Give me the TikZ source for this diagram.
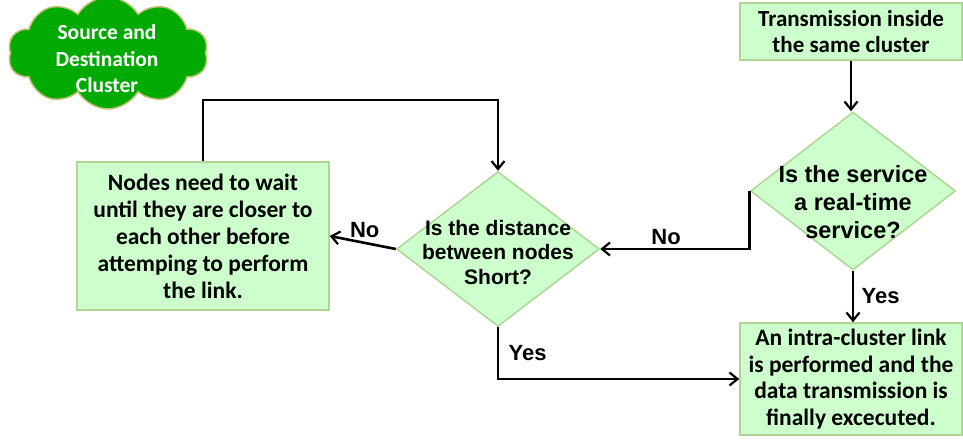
\documentclass[tikz,border=0pt]{standalone}
\usepackage{fontspec}
\newfontfamily\carlito{Carlito}
\newfontfamily\arialfont{Liberation Sans}
\usetikzlibrary{shapes.geometric,shapes.symbols,arrows.meta}
\definecolor{boxfill}{RGB}{204,255,204}
\definecolor{boxline}{RGB}{176,212,150}
\definecolor{cloudfill}{RGB}{0,170,0}
\definecolor{cloudline}{RGB}{190,195,120}
\tikzset{%
  stepbox/.style={rectangle,fill=boxfill,draw=boxline,line width=1.5pt,align=center,inner sep=2pt,font=\carlito\bfseries\fontsize{23.5}{27}\selectfont},
  decision/.style={diamond,fill=boxfill,draw=boxline,line width=1.5pt,inner sep=0pt},
  qtext/.style={align=center,inner sep=0pt,font=\arialfont\bfseries\fontsize{21}{24.5}\selectfont},
  answer/.style={font=\arialfont\bfseries\fontsize{22}{22}\selectfont},
  flow/.style={draw=black,line width=2.6pt,-{Straight Barb[length=8pt,width=13pt,line width=2.2pt]}}
}

\begin{document}
\begin{tikzpicture}[x=1pt,y=-1pt]
  \useasboundingbox (0,0) rectangle (963,439);
  % cluster tag
  \node[cloud,cloud puffs=10,cloud puff arc=120,aspect=2,minimum width=200pt,minimum height=112pt,inner sep=0pt,
        fill=cloudfill,draw=cloudline,line width=1.5pt] (tag) at (108,53) {};
  \node[align=center,text=white,inner sep=0pt,font=\carlito\bfseries\fontsize{21.5}{26.5}\selectfont] (tagtext) at (107,59) {Source and\\Destination\\Cluster};
  % boxes
  \node[stepbox,minimum width=222pt,minimum height=57pt,font=\carlito\bfseries\fontsize{23}{26}\selectfont] (same) at (851,31.5) {Transmission inside\\the same cluster};
  \node[stepbox,minimum width=252pt,minimum height=148pt] (wait) at (203,236) {Nodes need to wait\\until they are closer to\\each other before\\attemping to perform\\the link.};
  \node[stepbox,minimum width=222pt,minimum height=112pt,inner sep=0pt,font=\carlito\bfseries\fontsize{23.5}{26.5}\selectfont] (done) at (851,379) {An intra-cluster link\\is performed and the\\data transmission is\\finally excecuted.};
  % decisions
  \node[decision,minimum width=205pt,minimum height=158pt] (serv) at (853,191) {};
  \node[qtext,font=\arialfont\bfseries\fontsize{23.5}{28}\selectfont] (servq) at (853,202) {Is the service\\a real-time\\service?};
  \node[decision,minimum width=203pt,minimum height=155pt] (dist) at (498,249) {};
  \node[qtext] (distq) at (498,252) {Is the distance\\between nodes\\Short?};
  \coordinate (turn) at (350,100);
  % connectors
  \draw[flow] (same.south) -- (same.south |- serv.north);
  \draw[flow] (serv.west) |- node[answer,pos=0.78,above]{No} (dist.east);
  \draw[flow] (serv.south) -- node[answer,right,xshift=4pt]{Yes} (serv.south |- done.north);
  \draw[flow] (dist.west) -- node[answer,above,xshift=2pt]{No} (wait.east);
  \draw[flow] (dist.south) |- node[answer,pos=0.25,right,xshift=6pt]{Yes} (done.west);
  \draw[flow] (wait.north) |- (turn) -| (dist.north);
\end{tikzpicture}
\end{document}
